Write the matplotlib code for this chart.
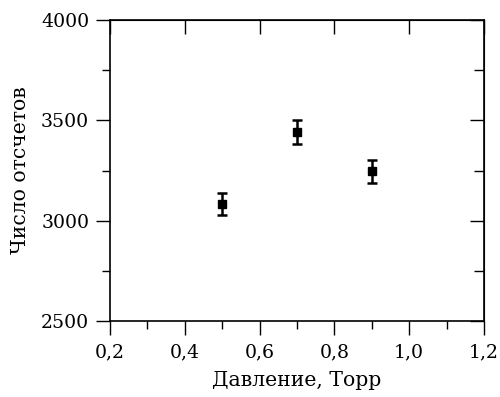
import numpy as np
import matplotlib
matplotlib.use('Agg')
import matplotlib.pyplot as plt
from matplotlib.ticker import MultipleLocator, FuncFormatter

# measured data
pressure = [0.5, 0.7, 0.9]
counts = [3085, 3440, 3247]
counts_err = [55, 60, 57]

plt.rcParams['font.family'] = ['DejaVu Serif']

fig = plt.figure(figsize=(5.0, 3.97), dpi=100)
ax = fig.add_axes([0.22, 0.1914, 0.748, 0.7582])

ax.errorbar(pressure, counts, yerr=counts_err, fmt='s', color='black',
            ms=6, elinewidth=1.8, capsize=3.5, capthick=1.8)

ax.set_xlim(0.2, 1.2)
ax.set_ylim(2500, 4000)
ax.xaxis.set_major_locator(MultipleLocator(0.2))
ax.xaxis.set_minor_locator(MultipleLocator(0.1))
ax.yaxis.set_major_locator(MultipleLocator(500))
ax.yaxis.set_minor_locator(MultipleLocator(250))
ax.xaxis.set_major_formatter(FuncFormatter(lambda v, p: ('%.1f' % v).replace('.', ',')))

ax.tick_params(which='major', direction='out', length=10, width=1.0, labelsize=13.6, pad=5)
ax.tick_params(which='minor', direction='out', length=6, width=1.0)
ax.tick_params(axis='x', which='major', pad=6)

# inward ticks on top and right
sec_x = ax.secondary_xaxis('top')
sec_x.xaxis.set_major_locator(MultipleLocator(0.2))
sec_x.tick_params(which='major', direction='in', length=10, width=1.0, labeltop=False)
sec_x.tick_params(which='minor', length=0)
sec_y = ax.secondary_yaxis('right')
sec_y.yaxis.set_major_locator(MultipleLocator(500))
sec_y.yaxis.set_minor_locator(MultipleLocator(250))
sec_y.tick_params(which='major', direction='in', length=10, width=1.0, labelright=False)
sec_y.tick_params(which='minor', direction='in', length=7, width=1.0)

for s in ax.spines.values():
    s.set_linewidth(1.2)

ax.set_xlabel('Давление, Торр', fontsize=14.7, labelpad=7)
ax.set_ylabel('Число отсчетов', fontsize=14.7, labelpad=8)

fig.savefig('out.png', dpi=100)
